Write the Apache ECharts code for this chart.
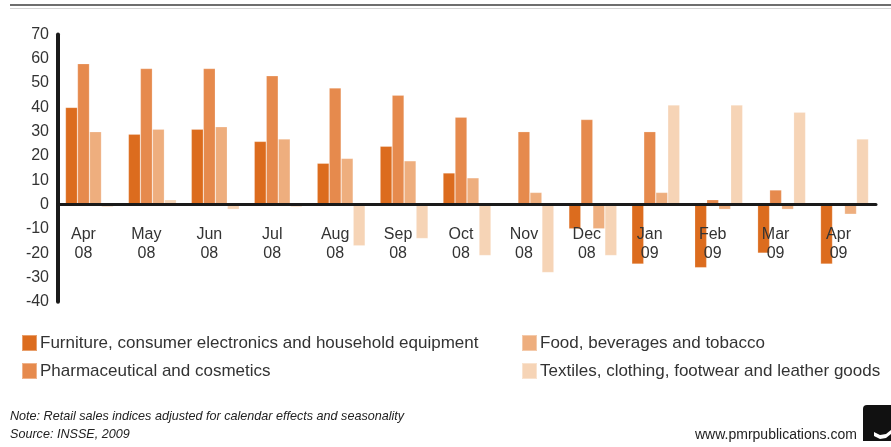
<!DOCTYPE html>
<html>
<head>
<meta charset="utf-8">
<script src="https://cdn.jsdelivr.net/npm/echarts@6/dist/echarts.min.js"></script>
<style>
  html, body { margin: 0; padding: 0; background: #fff; }
  #chart { width: 891px; height: 447px; }
</style>
</head>
<body>
<div id="chart"></div>
<script>
// Monthly retail sales, y/y change (%) by product group
const categories = ['Apr\n08', 'May\n08', 'Jun\n08', 'Jul\n08', 'Aug\n08', 'Sep\n08', 'Oct\n08',
                    'Nov\n08', 'Dec\n08', 'Jan\n09', 'Feb\n09', 'Mar\n09', 'Apr\n09'];
const furniture = [40, 29, 31, 26, 17, 24, 13, 0, -10, -24.5, -26, -20, -24.5];
const pharma    = [58, 56, 56, 53, 48, 45, 36, 30, 35, 30, 2, 6, 0];
const food      = [30, 31, 32, 27, 19, 18, 11, 5, -10, 5, -2, -2, -4];
const textiles  = [-1, 2, -2, -1, -17, -14, -21, -28, -21, 41, 41, 38, 27];

const seriesNames = [
  'Furniture, consumer electronics and household equipment',
  'Pharmaceutical and cosmetics',
  'Food, beverages and tobacco',
  'Textiles, clothing, footwear and leather goods'
];
const yTicks = { min: -40, max: 70, step: 10 };

const colors = ['#dc6c1e', '#e68a4d', '#eeae7e', '#f6d4b6'];
const font = '"Liberation Sans", Arial, Helvetica, sans-serif';

const W = 891, H = 447;
const grid = { left: 58, right: 15, top: 34.5, bottom: 145.3 };
// lift the category axis (line + labels) up to the value 0
const plotH = H - grid.top - grid.bottom;
const zeroLift = -plotH * (0 - yTicks.min) / (yTicks.max - yTicks.min);

const chart = echarts.init(document.getElementById('chart'), null, { renderer: 'canvas' });

function legendAt(name, left, top) {
  return {
    data: [name], left: left, top: top, padding: 0,
    icon: 'rect', itemWidth: 15, itemHeight: 16,
    textStyle: { fontFamily: font, fontSize: 17, color: '#333', padding: [0, 0, 0, -2] },
    selectedMode: false
  };
}

const dataSets = [furniture, pharma, food, textiles];

chart.setOption({
  animation: false,
  color: colors,
  grid: Object.assign({ containLabel: false }, grid),
  legend: [
    legendAt(seriesNames[0], 21, 334),
    legendAt(seriesNames[2], 521, 334),
    legendAt(seriesNames[1], 21, 362),
    legendAt(seriesNames[3], 521, 362)
  ],
  xAxis: {
    type: 'category',
    data: categories,
    offset: zeroLift,
    axisLine: { onZero: false, lineStyle: { color: '#1a1a1a', width: 3 } },
    axisTick: { show: false },
    axisLabel: {
      interval: 0, fontFamily: font, fontSize: 16, color: '#333',
      lineHeight: 19, margin: 21, padding: [0, 12, 0, 0]
    },
    z: 10
  },
  yAxis: {
    type: 'value',
    min: yTicks.min, max: yTicks.max, interval: yTicks.step,
    axisLine: { show: true, onZero: false, lineStyle: { color: '#1a1a1a', width: 4 } },
    axisTick: { show: false },
    splitLine: { show: false },
    axisLabel: { fontFamily: font, fontSize: 16, color: '#333', margin: 9 }
  },
  series: seriesNames.map((name, i) => ({
    name: name,
    type: 'bar',
    data: dataSets[i],
    barWidth: 12,
    barGap: '0%',
    itemStyle: { color: colors[i], borderColor: 'rgba(255,255,255,0.35)', borderWidth: 0.6 }
  })),
  graphic: [
    { type: 'rect', shape: { x: 10, y: 4, width: 881, height: 2 }, style: { fill: '#6e6e6e' } },
    { type: 'rect', shape: { x: 10, y: 8, width: 881, height: 1 }, style: { fill: '#d4d4d4' } },
    {
      type: 'text', x: 10, y: 410,
      style: {
        text: 'Note: Retail sales indices adjusted for calendar effects and seasonality',
        font: 'italic 12.6px ' + font, fill: '#222'
      }
    },
    {
      type: 'text', x: 10, y: 428,
      style: { text: 'Source: INSSE, 2009', font: 'italic 12.6px ' + font, fill: '#222' }
    },
    {
      type: 'text', x: 695, y: 428,
      style: { text: 'www.pmrpublications.com', font: '14px ' + font, fill: '#222' }
    },
    {
      type: 'rect', shape: { x: 863, y: 405, width: 28, height: 36, r: [4, 0, 0, 0] },
      style: { fill: '#111' }
    },
    {
      type: 'polygon',
      shape: { points: [[874, 432], [880, 435], [886, 434], [891, 430], [891, 434], [886, 438], [880, 439], [874, 436]] },
      style: { fill: '#fff' }
    }
  ]
});
</script>
</body>
</html>
